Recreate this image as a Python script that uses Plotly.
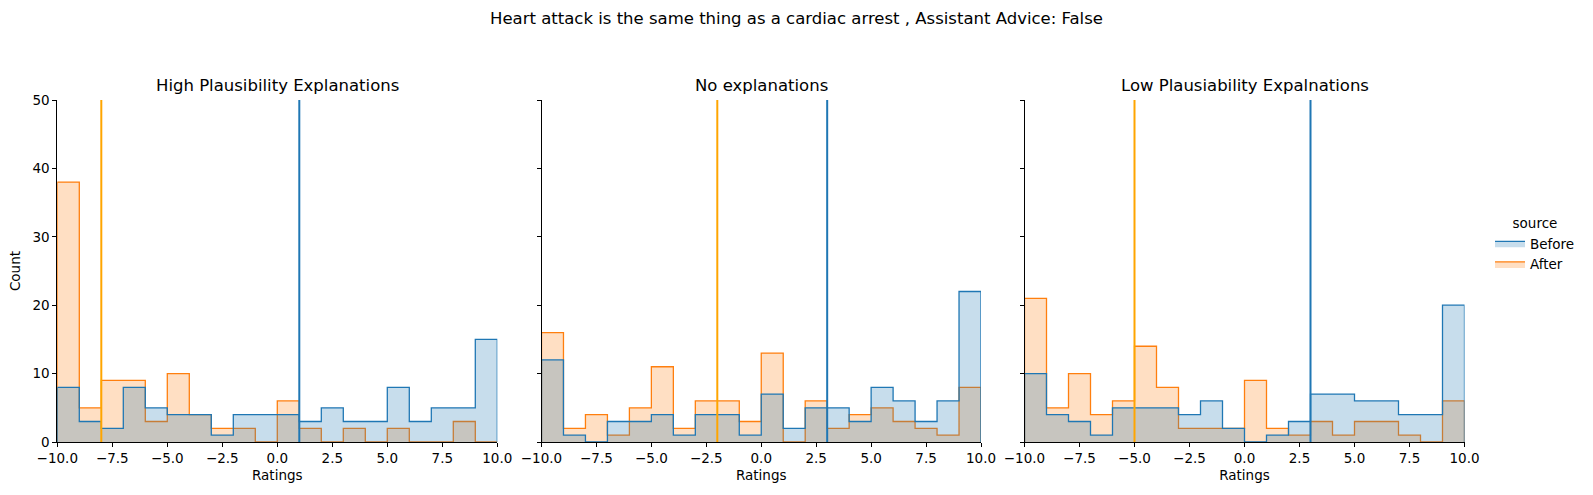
import plotly.graph_objects as go

# bin edges (width 1) and tick labels
edges = list(range(-10, 11))
xtick_vals = [-10, -7.5, -5, -2.5, 0, 2.5, 5, 7.5, 10]
xtick_text = ["\u221210.0", "\u22127.5", "\u22125.0", "\u22122.5", "0.0", "2.5", "5.0", "7.5", "10.0"]
ytick_vals = [0, 10, 20, 30, 40, 50]

panel_titles = ["High Plausibility Explanations", "No explanations", "Low Plausiability Expalnations"]

# counts per bin, -10..9
high_before = [8, 3, 2, 8, 5, 4, 4, 1, 4, 4, 4, 3, 5, 3, 3, 8, 3, 5, 5, 15]
high_after = [38, 5, 9, 9, 3, 10, 4, 2, 2, 0, 6, 2, 0, 2, 0, 2, 0, 0, 3, 0]
no_before = [12, 1, 0, 3, 3, 4, 1, 4, 4, 1, 7, 2, 5, 5, 3, 8, 6, 3, 6, 22]
no_after = [16, 2, 4, 1, 5, 11, 2, 6, 6, 3, 13, 0, 6, 2, 4, 5, 3, 2, 1, 8]
low_before = [10, 4, 3, 1, 5, 5, 5, 4, 6, 2, 0, 1, 3, 7, 7, 6, 6, 4, 4, 20]
low_after = [21, 5, 10, 4, 6, 14, 8, 2, 2, 2, 9, 2, 1, 3, 1, 3, 3, 1, 0, 6]

# vertical reference lines (per panel)
before_lines = [1, 3, 3]
after_lines = [-8, -2, -5]

before_counts = [high_before, no_before, low_before]
after_counts = [high_after, no_after, low_after]

BLUE = "#1f77b4"
ORANGE = "#ff7f0e"
FONT = "DejaVu Sans"

W, H = 1593, 495
# axes boxes in pixels
x_boxes = [(57.3, 497.3), (541.5, 981.0), (1024.5, 1464.5)]
y_top, y_bot = 100, 442


def step_path(counts):
    xs = [edges[0]] + edges + [edges[-1]]
    ys = [0] + list(counts) + [counts[-1], 0]
    return xs, ys


fig = go.Figure()

for i in range(3):
    ax = "" if i == 0 else str(i + 1)
    for name, counts, col, fillc, rank in [
        ("After", after_counts[i], ORANGE, "rgba(255,127,14,0.25)", 2),
        ("Before", before_counts[i], BLUE, "rgba(31,119,180,0.25)", 1),
    ]:
        xs, ys = step_path(counts)
        fig.add_trace(go.Scatter(
            x=xs, y=ys, mode="lines", line=dict(shape="hv", color=col, width=1.3),
            fill="tozeroy", fillcolor=fillc, name=name, legendgroup=name,
            legendrank=rank, showlegend=(i == 0),
            xaxis="x" + ax, yaxis="y" + ax, hoverinfo="skip",
        ))
    fig.add_trace(go.Scatter(x=[after_lines[i]] * 2, y=[0, 50], mode="lines",
                             line=dict(color="orange", width=2), showlegend=False,
                             xaxis="x" + ax, yaxis="y" + ax))
    fig.add_trace(go.Scatter(x=[before_lines[i]] * 2, y=[0, 50], mode="lines",
                             line=dict(color=BLUE, width=2), showlegend=False,
                             xaxis="x" + ax, yaxis="y" + ax))

    x0, x1 = x_boxes[i]
    common = dict(showline=True, linecolor="black", linewidth=1, ticks="outside",
                  ticklen=4, tickcolor="black", tickwidth=1, showgrid=False,
                  zeroline=False, automargin=False,
                  tickfont=dict(family=FONT, size=13.5, color="black"))
    fig.layout["xaxis" + ax] = dict(
        domain=[x0 / W, x1 / W], range=[-10, 10], anchor="y" + ax,
        tickvals=xtick_vals, ticktext=xtick_text,
        title=dict(text="Ratings", font=dict(family=FONT, size=13.5, color="black"), standoff=5),
        **common)
    fig.layout["yaxis" + ax] = dict(
        domain=[1 - y_bot / H, 1 - y_top / H], range=[0, 50], anchor="x" + ax,
        tickvals=ytick_vals, showticklabels=(i == 0),
        title=dict(text="Count" if i == 0 else "", font=dict(family=FONT, size=13.5, color="black"),
                   standoff=8),
        **common)
    fig.add_annotation(text=panel_titles[i], x=(x0 + x1) / 2 / W, y=1 - y_top / H + 3 / H,
                       xref="paper", yref="paper", xanchor="center", yanchor="bottom",
                       showarrow=False, font=dict(family=FONT, size=16.5, color="black"))

fig.add_annotation(text="Heart attack is the same thing as a cardiac arrest , Assistant Advice: False",
                   x=0.5, y=1 - 18 / H, xref="paper", yref="paper", xanchor="center",
                   yanchor="middle", showarrow=False, font=dict(family=FONT, size=16.5, color="black"))

fig.update_layout(
    width=W, height=H, margin=dict(l=0, r=0, t=0, b=0),
    plot_bgcolor="white", paper_bgcolor="white",
    legend=dict(x=1490 / W, y=1 - 245 / H, xanchor="left", yanchor="middle",
                tracegroupgap=0,
                title=dict(text="source", side="top center", font=dict(family=FONT, size=13.5, color="black")),
                font=dict(family=FONT, size=13.5, color="black"), bgcolor="rgba(0,0,0,0)"),
)

# drop the default page margin so the figure sits at the window's corner
fig.write_html("out.html", config={"displayModeBar": False},
               post_script="document.body.style.margin='0';")
